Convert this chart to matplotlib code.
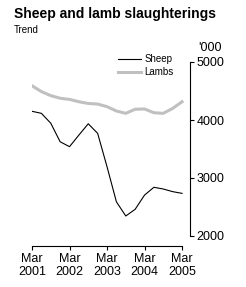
import numpy as np
import matplotlib.pyplot as plt

plt.rcParams['font.family'] = ['Liberation Sans', 'DejaVu Sans']

# quarterly trend, Mar 2001 to Mar 2005 ('000)
quarters = np.arange(17)
sheep = [4150, 4115, 3945, 3625, 3540, 3740, 3935, 3770, 3195,
         2590, 2345, 2460, 2705, 2840, 2810, 2765, 2735]
lambs = [4590, 4490, 4420, 4375, 4355, 4315, 4285, 4275, 4230,
         4155, 4115, 4185, 4190, 4125, 4115, 4200, 4315]
tick_pos = [0, 4, 8, 12, 16]
tick_labels = ['Mar\n2001', 'Mar\n2002', 'Mar\n2003', 'Mar\n2004', 'Mar\n2005']

W, H = 246, 287
fig = plt.figure(figsize=(W / 100, H / 100), dpi=100)
# axes box in pixels: left 32, right 190, top 62, bottom 236
ax = fig.add_axes([32 / W, 1 - 236 / H, (190 - 32) / W, (236 - 62) / H])

ax.plot(quarters, lambs, color='#c0c0c0', linewidth=2.2, label='Lambs')
ax.plot(quarters, sheep, color='black', linewidth=0.8, label='Sheep')

ax.set_xlim(0, 16.85)
ax.set_ylim(2000, 5000)

ax.spines['left'].set_visible(False)
ax.spines['top'].set_visible(False)
ax.spines['bottom'].set_bounds(0, 16)
ax.spines['bottom'].set_position(('outward', 7))
for s in ('bottom', 'right'):
    ax.spines[s].set_linewidth(0.8)

ax.yaxis.tick_right()
ax.set_yticks([2000, 3000, 4000, 5000])
ax.set_xticks(tick_pos)
ax.set_xticklabels(tick_labels)
ax.tick_params(axis='both', direction='out', length=3, width=0.8,
               labelsize=9, pad=1.5)
ax.tick_params(axis='x', pad=2)

ax.text(198 / W, 1 - 48 / H, "'000", transform=fig.transFigure,
        fontsize=9, ha='left', va='center')

handles, labels = ax.get_legend_handles_labels()
ax.legend(handles[::-1], labels[::-1], loc='upper left',
          bbox_to_anchor=(118 / W, 1 - 54 / H), bbox_transform=fig.transFigure,
          frameon=False, fontsize=7, handlelength=2.4, handletextpad=0.3,
          labelspacing=0.3, borderpad=0, borderaxespad=0)

fig.text(14 / W, 1 - 14 / H, 'Sheep and lamb slaughterings',
         fontsize=10, fontweight='bold', ha='left', va='center')
fig.text(14 / W, 1 - 30 / H, 'Trend', fontsize=7, ha='left', va='center')

fig.savefig('out.png', dpi=100)
